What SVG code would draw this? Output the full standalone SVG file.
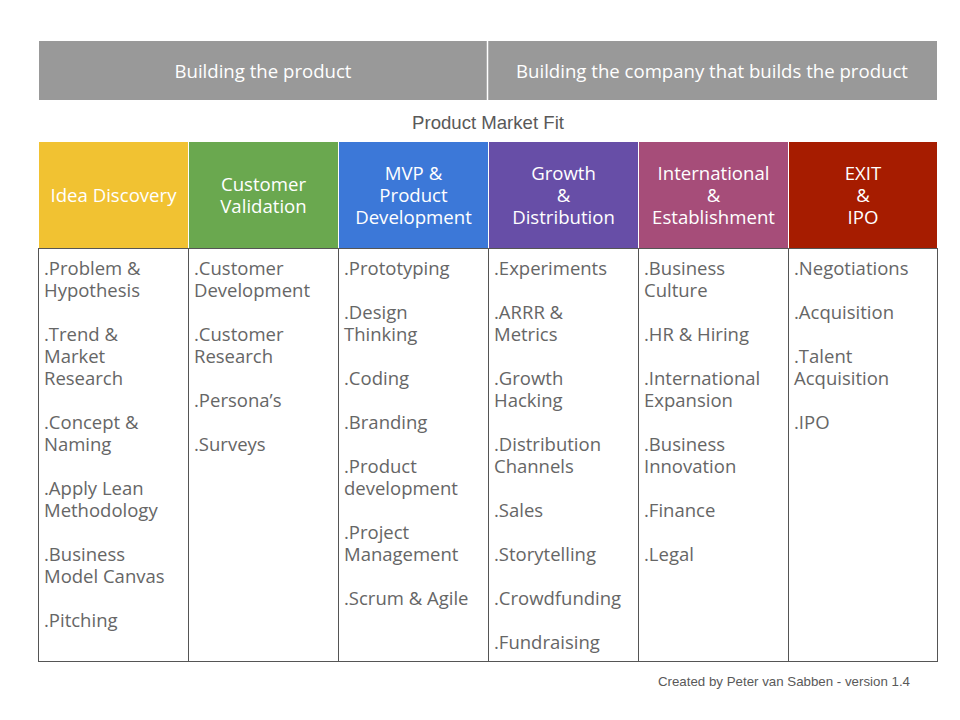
<svg xmlns="http://www.w3.org/2000/svg" width="960" height="720" viewBox="0 0 960 720">
<style>
.bar{fill:#999999}
.ht{font-family:"Open Sans","Noto Sans",sans-serif;font-size:18.6px;fill:#ffffff;text-anchor:middle}
.bt{font-family:"Open Sans","Noto Sans",sans-serif;font-size:18.5px;fill:#666666}
.ln{stroke:#555555;stroke-width:1;fill:none}
.sep{stroke:#ffffff;stroke-width:1.5}
</style>
<rect width="960" height="720" fill="#ffffff"/>
<g id="top-bar">
<rect class="bar" x="39" y="41" width="898" height="59"/>
<line class="sep" x1="487.5" y1="41" x2="487.5" y2="100"/>
<text class="ht" x="263" y="78">Building the product</text>
<text class="ht" x="712" y="78">Building the company that builds the product</text>
</g>
<text id="pmf" x="488" y="129" font-family="Liberation Sans, Arial, sans-serif" font-size="18.6" fill="#595959" text-anchor="middle">Product Market Fit</text>
<g id="table-lines">
<rect class="ln" x="38.5" y="248.5" width="899" height="413"/>
<line class="ln" x1="188.5" y1="248" x2="188.5" y2="662"/>
<line class="ln" x1="338.5" y1="248" x2="338.5" y2="662"/>
<line class="ln" x1="488.5" y1="248" x2="488.5" y2="662"/>
<line class="ln" x1="638.5" y1="248" x2="638.5" y2="662"/>
<line class="ln" x1="788.5" y1="248" x2="788.5" y2="662"/>
</g>
<g id="col1">
<rect x="39" y="142" width="149" height="106" fill="#f1c232"/>
<text class="ht" x="113.5" y="202">Idea Discovery</text>
<text class="bt" x="44" y="275">.Problem &amp;</text>
<text class="bt" x="44" y="297">Hypothesis</text>
<text class="bt" x="44" y="341">.Trend &amp;</text>
<text class="bt" x="44" y="363">Market</text>
<text class="bt" x="44" y="385">Research</text>
<text class="bt" x="44" y="429">.Concept &amp;</text>
<text class="bt" x="44" y="451">Naming</text>
<text class="bt" x="44" y="495">.Apply Lean</text>
<text class="bt" x="44" y="517">Methodology</text>
<text class="bt" x="44" y="561">.Business</text>
<text class="bt" x="44" y="583">Model Canvas</text>
<text class="bt" x="44" y="627">.Pitching</text>
</g>
<g id="col2">
<rect x="189" y="142" width="149" height="106" fill="#6aa84f"/>
<text class="ht" x="263.5" y="191">Customer</text>
<text class="ht" x="263.5" y="213">Validation</text>
<text class="bt" x="194" y="275">.Customer</text>
<text class="bt" x="194" y="297">Development</text>
<text class="bt" x="194" y="341">.Customer</text>
<text class="bt" x="194" y="363">Research</text>
<text class="bt" x="194" y="407">.Persona’s</text>
<text class="bt" x="194" y="451">.Surveys</text>
</g>
<g id="col3">
<rect x="339" y="142" width="149" height="106" fill="#3c78d8"/>
<text class="ht" x="413.5" y="180">MVP &amp;</text>
<text class="ht" x="413.5" y="202">Product</text>
<text class="ht" x="413.5" y="224">Development</text>
<text class="bt" x="344" y="275">.Prototyping</text>
<text class="bt" x="344" y="319">.Design</text>
<text class="bt" x="344" y="341">Thinking</text>
<text class="bt" x="344" y="385">.Coding</text>
<text class="bt" x="344" y="429">.Branding</text>
<text class="bt" x="344" y="473">.Product</text>
<text class="bt" x="344" y="495">development</text>
<text class="bt" x="344" y="539">.Project</text>
<text class="bt" x="344" y="561">Management</text>
<text class="bt" x="344" y="605">.Scrum &amp; Agile</text>
</g>
<g id="col4">
<rect x="489" y="142" width="149" height="106" fill="#674ea7"/>
<text class="ht" x="563.5" y="180">Growth</text>
<text class="ht" x="563.5" y="202">&amp;</text>
<text class="ht" x="563.5" y="224">Distribution</text>
<text class="bt" x="494" y="275">.Experiments</text>
<text class="bt" x="494" y="319">.ARRR &amp;</text>
<text class="bt" x="494" y="341">Metrics</text>
<text class="bt" x="494" y="385">.Growth</text>
<text class="bt" x="494" y="407">Hacking</text>
<text class="bt" x="494" y="451">.Distribution</text>
<text class="bt" x="494" y="473">Channels</text>
<text class="bt" x="494" y="517">.Sales</text>
<text class="bt" x="494" y="561">.Storytelling</text>
<text class="bt" x="494" y="605">.Crowdfunding</text>
<text class="bt" x="494" y="649">.Fundraising</text>
</g>
<g id="col5">
<rect x="639" y="142" width="149" height="106" fill="#a64d79"/>
<text class="ht" x="713.5" y="180">International</text>
<text class="ht" x="713.5" y="202">&amp;</text>
<text class="ht" x="713.5" y="224">Establishment</text>
<text class="bt" x="644" y="275">.Business</text>
<text class="bt" x="644" y="297">Culture</text>
<text class="bt" x="644" y="341">.HR &amp; Hiring</text>
<text class="bt" x="644" y="385">.International</text>
<text class="bt" x="644" y="407">Expansion</text>
<text class="bt" x="644" y="451">.Business</text>
<text class="bt" x="644" y="473">Innovation</text>
<text class="bt" x="644" y="517">.Finance</text>
<text class="bt" x="644" y="561">.Legal</text>
</g>
<g id="col6">
<rect x="789" y="142" width="148" height="106" fill="#a61c00"/>
<text class="ht" x="863" y="180">EXIT</text>
<text class="ht" x="863" y="202">&amp;</text>
<text class="ht" x="863" y="224">IPO</text>
<text class="bt" x="794" y="275">.Negotiations</text>
<text class="bt" x="794" y="319">.Acquisition</text>
<text class="bt" x="794" y="363">.Talent</text>
<text class="bt" x="794" y="385">Acquisition</text>
<text class="bt" x="794" y="429">.IPO</text>
</g>
<text id="footer" x="910" y="686" font-family="Liberation Sans, Arial, sans-serif" font-size="13.3" fill="#595959" text-anchor="end">Created by Peter van Sabben - version 1.4</text>
</svg>
